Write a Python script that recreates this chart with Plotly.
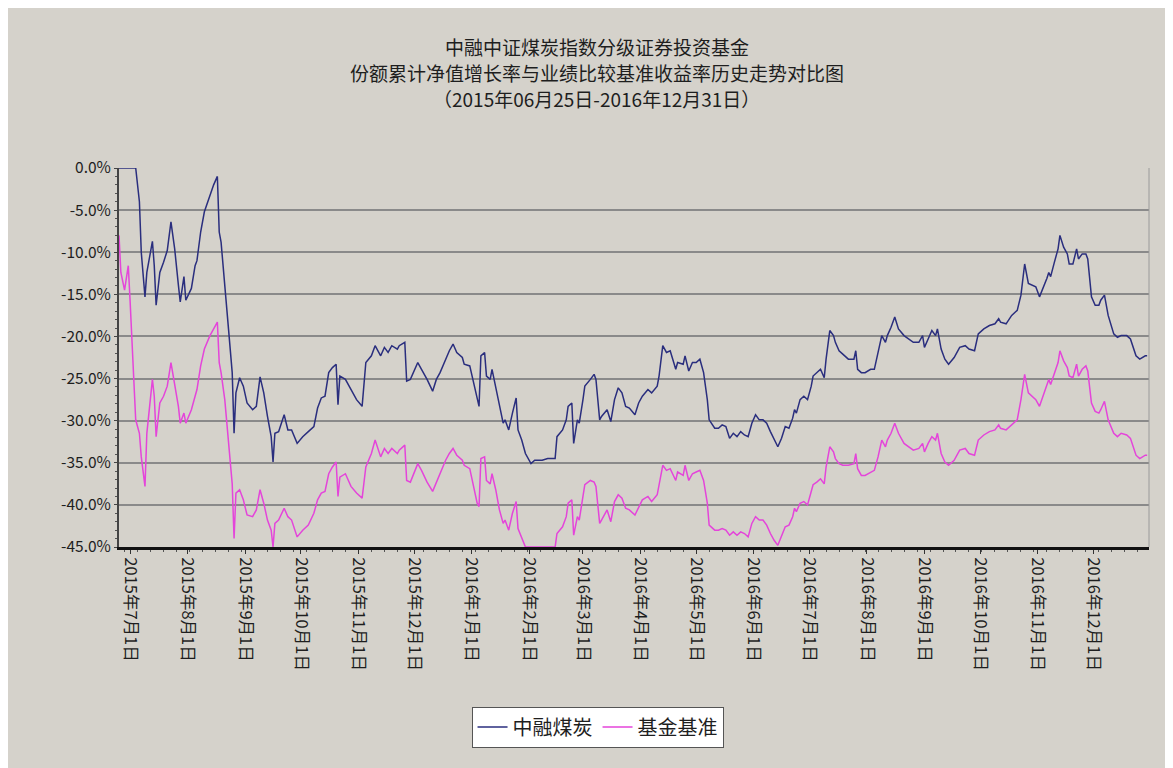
import plotly.graph_objects as go

# ---------------- data ----------------
dates = [
    "2015-06-25", "2015-06-26", "2015-06-28", "2015-06-30", "2015-07-01", "2015-07-03", "2015-07-04",
    "2015-07-06", "2015-07-07", "2015-07-09", "2015-07-10", "2015-07-13", "2015-07-14", "2015-07-15",
    "2015-07-17", "2015-07-19", "2015-07-21", "2015-07-23", "2015-07-25", "2015-07-27", "2015-07-28",
    "2015-07-30", "2015-07-31", "2015-08-03", "2015-08-05", "2015-08-06", "2015-08-08", "2015-08-10",
    "2015-08-13", "2015-08-15", "2015-08-17", "2015-08-18", "2015-08-19", "2015-08-21", "2015-08-23",
    "2015-08-25", "2015-08-26", "2015-08-27", "2015-08-29", "2015-08-31", "2015-09-02", "2015-09-05",
    "2015-09-07", "2015-09-09", "2015-09-11", "2015-09-13", "2015-09-15", "2015-09-16", "2015-09-17",
    "2015-09-19", "2015-09-22", "2015-09-24", "2015-09-26", "2015-09-29", "2015-10-02", "2015-10-05",
    "2015-10-08", "2015-10-10", "2015-10-12", "2015-10-14", "2015-10-16", "2015-10-18", "2015-10-20",
    "2015-10-21", "2015-10-22", "2015-10-25", "2015-10-28", "2015-10-31", "2015-11-03", "2015-11-04",
    "2015-11-05", "2015-11-08", "2015-11-10",
    "2015-11-13", "2015-11-15", "2015-11-17", "2015-11-19", "2015-11-22", "2015-11-23", "2015-11-26",
    "2015-11-27", "2015-11-29", "2015-12-02", "2015-12-03", "2015-12-05", "2015-12-08", "2015-12-11",
    "2015-12-13", "2015-12-15", "2015-12-18", "2015-12-20", "2015-12-22", "2015-12-24", "2015-12-27",
    "2015-12-28", "2015-12-31", "2016-01-04", "2016-01-05", "2016-01-06", "2016-01-08", "2016-01-09",
    "2016-01-11", "2016-01-12", "2016-01-14", "2016-01-16", "2016-01-18", "2016-01-19", "2016-01-21",
    "2016-01-23", "2016-01-25", "2016-01-26", "2016-01-28", "2016-01-30", "2016-02-01", "2016-02-02",
    "2016-02-04", "2016-02-08", "2016-02-11", "2016-02-15", "2016-02-16", "2016-02-19", "2016-02-21",
    "2016-02-22", "2016-02-24", "2016-02-25", "2016-02-27", "2016-02-28", "2016-03-01", "2016-03-02",
    "2016-03-05", "2016-03-07", "2016-03-08", "2016-03-10", "2016-03-11", "2016-03-14", "2016-03-16",
    "2016-03-18", "2016-03-20", "2016-03-22", "2016-03-24", "2016-03-26", "2016-03-29",
    "2016-03-31", "2016-04-02", "2016-04-05", "2016-04-07", "2016-04-10", "2016-04-11", "2016-04-13",
    "2016-04-15", "2016-04-17", "2016-04-20", "2016-04-21", "2016-04-24", "2016-04-25", "2016-04-27",
    "2016-04-29", "2016-05-01", "2016-05-03", "2016-05-05", "2016-05-07", "2016-05-08", "2016-05-11",
    "2016-05-13", "2016-05-15", "2016-05-17", "2016-05-19", "2016-05-21", "2016-05-23", "2016-05-25",
    "2016-05-27", "2016-05-29", "2016-05-31", "2016-06-02", "2016-06-04", "2016-06-06", "2016-06-08",
    "2016-06-10", "2016-06-12", "2016-06-14", "2016-06-16", "2016-06-18", "2016-06-20", "2016-06-22",
    "2016-06-23", "2016-06-24", "2016-06-26", "2016-06-28", "2016-06-30", "2016-07-02", "2016-07-03",
    "2016-07-05", "2016-07-07", "2016-07-09", "2016-07-10", "2016-07-12", "2016-07-14", "2016-07-15",
    "2016-07-17", "2016-07-19", "2016-07-22", "2016-07-25", "2016-07-26", "2016-07-27", "2016-07-29",
    "2016-07-31", "2016-08-03", "2016-08-05", "2016-08-07", "2016-08-09", "2016-08-11", "2016-08-12",
    "2016-08-14", "2016-08-16",
    "2016-08-18", "2016-08-21", "2016-08-26", "2016-08-29", "2016-08-31", "2016-09-01", "2016-09-03",
    "2016-09-05", "2016-09-07", "2016-09-08", "2016-09-10", "2016-09-12", "2016-09-14", "2016-09-17",
    "2016-09-20", "2016-09-23", "2016-09-25", "2016-09-28", "2016-09-30", "2016-10-03", "2016-10-06",
    "2016-10-09", "2016-10-11", "2016-10-12", "2016-10-15", "2016-10-18", "2016-10-20", "2016-10-21",
    "2016-10-23", "2016-10-25", "2016-10-27", "2016-10-29", "2016-10-31", "2016-11-02", "2016-11-04",
    "2016-11-06", "2016-11-07", "2016-11-08", "2016-11-10", "2016-11-12", "2016-11-13", "2016-11-15",
    "2016-11-17", "2016-11-18", "2016-11-20", "2016-11-22", "2016-11-23", "2016-11-25", "2016-11-27",
    "2016-11-28", "2016-11-30", "2016-12-02", "2016-12-04", "2016-12-05", "2016-12-07", "2016-12-09",
    "2016-12-12", "2016-12-14", "2016-12-16", "2016-12-19", "2016-12-21", "2016-12-23", "2016-12-24",
    "2016-12-26", "2016-12-29", "2016-12-30",
]

fund = [  # 中融煤炭 (%)
    0.0, 0.0, 0.0, 0.0, 0.0, 0.0, 0.0,
    -4.0, -10.0, -15.3, -12.4, -8.7, -11.6, -16.3,
    -12.4, -11.2, -9.8, -6.4, -9.6, -13.9, -15.9,
    -12.9, -15.7, -14.3, -11.6, -11.0, -7.6, -5.2,
    -3.2, -2.0, -1.0, -7.6, -8.8, -13.5, -19.1,
    -24.3, -31.5, -26.7, -24.9, -25.9, -27.9, -28.7,
    -28.3, -24.8, -26.7, -29.5, -31.9, -34.9, -31.5,
    -31.3, -29.3, -31.1, -31.1, -32.7, -31.9, -31.3,
    -30.7, -28.5, -27.3, -27.1, -24.3, -23.7, -23.3,
    -28.1, -24.7, -25.1, -26.3, -27.5, -28.3, -25.5,
    -23.1, -22.3, -21.1,
    -22.3, -21.3, -21.9, -21.1, -21.5, -21.1, -20.7,
    -25.3, -25.1, -23.5, -23.1, -23.9, -25.1, -26.5,
    -25.1, -24.3, -22.7, -21.7, -20.9, -21.9, -22.5,
    -23.3, -23.5, -27.5, -28.3, -22.3, -21.9, -24.7,
    -25.1, -23.9, -25.9, -28.3, -30.3, -29.9, -31.1,
    -29.1, -27.3, -31.1, -32.3, -33.9, -34.7, -35.1,
    -34.7, -34.7, -34.5, -34.5, -31.9, -31.1, -29.9,
    -28.3, -27.9, -32.7, -29.9, -30.3, -27.5, -25.9,
    -25.1, -24.5, -25.1, -29.9, -29.5, -28.7, -30.1,
    -27.5, -26.1, -26.7, -28.3, -28.5, -29.3,
    -27.9, -27.1, -26.3, -26.7, -25.9, -24.7, -21.1,
    -21.9, -21.7, -23.9, -23.1, -23.3, -22.3, -24.1,
    -23.1, -23.1, -22.7, -24.3, -27.5, -29.9, -30.9,
    -30.9, -30.5, -30.7, -32.1, -31.5, -31.9, -31.3,
    -31.7, -31.9, -30.3, -29.3, -29.9, -29.9, -30.3,
    -31.3, -32.3, -33.1, -32.1, -30.7, -30.9, -29.7,
    -28.7, -29.1, -27.5, -27.1, -27.5, -25.9, -24.7,
    -24.3, -23.9, -24.9, -22.7, -19.3, -19.9, -20.7,
    -21.7, -22.1, -22.7, -22.7, -21.7, -23.9, -24.3,
    -24.3, -23.9, -23.9, -21.7, -19.9, -20.7, -19.9,
    -18.9, -17.7,
    -19.1, -19.9, -20.7, -20.7, -19.9, -21.3, -20.3,
    -19.3, -19.9, -19.1, -21.5, -22.7, -23.3, -22.5,
    -21.3, -21.1, -21.5, -21.7, -19.7, -19.1, -18.7,
    -18.5, -17.9, -18.3, -18.5, -17.5, -17.1, -16.9,
    -15.1, -11.4, -13.7, -13.9, -14.1, -15.3, -14.3,
    -13.1, -12.4, -12.9, -11.2, -9.6, -8.0, -9.4,
    -10.2, -11.4, -11.4, -9.6, -10.8, -10.2, -10.2,
    -10.8, -15.3, -16.3, -16.3, -15.7, -15.1, -17.5,
    -19.7, -20.1, -19.9, -19.9, -20.3, -21.5, -22.3,
    -22.7, -22.3, -22.3,
]

bench = [  # 基金基准 (%)
    -8.0, -12.4, -14.5, -11.6, -15.9, -25.1, -29.9,
    -31.5, -34.3, -37.8, -31.5, -25.1, -27.1, -31.9,
    -27.9, -27.1, -25.9, -23.1, -25.5, -28.3, -30.3,
    -29.1, -30.3, -28.7, -27.1, -26.3, -23.5, -21.5,
    -19.9, -19.1, -18.3, -23.1, -24.3, -27.5, -32.7,
    -37.5, -44.0, -38.6, -38.2, -39.4, -41.2, -41.4,
    -40.6, -38.2, -39.8, -41.8, -43.0, -45.0, -42.2,
    -41.8, -40.4, -41.4, -41.8, -43.8, -43.0, -42.4,
    -41.0, -39.4, -38.6, -38.4, -36.3, -35.5, -34.9,
    -39.0, -36.7, -36.3, -37.8, -38.6, -39.2, -37.5,
    -35.5, -33.9, -32.3,
    -34.3, -33.3, -33.9, -33.3, -33.9, -33.5, -32.9,
    -37.1, -37.3, -35.7, -35.1, -35.9, -37.3, -38.4,
    -37.3, -36.3, -34.7, -33.9, -33.3, -34.1, -34.7,
    -35.3, -35.7, -39.8, -40.2, -34.5, -34.3, -37.1,
    -37.5, -36.3, -38.2, -40.6, -42.2, -41.8, -43.0,
    -41.0, -39.6, -42.8, -44.0, -45.0, -45.0, -45.0,
    -45.0, -45.0, -45.0, -45.0, -43.4, -42.6, -41.4,
    -39.8, -39.4, -43.6, -41.4, -41.8, -39.0, -37.6,
    -37.1, -37.3, -37.8, -42.2, -41.8, -40.6, -42.0,
    -39.6, -38.8, -39.2, -40.4, -40.6, -41.2,
    -40.2, -39.4, -39.0, -39.6, -38.8, -37.5, -35.3,
    -35.9, -35.7, -37.1, -36.1, -36.5, -35.3, -37.1,
    -36.3, -36.1, -35.9, -37.1, -39.8, -42.4, -43.0,
    -43.0, -42.8, -43.0, -43.6, -43.2, -43.6, -43.2,
    -43.4, -43.8, -42.2, -41.4, -41.8, -41.8, -42.4,
    -43.4, -44.2, -44.8, -43.6, -42.6, -42.4, -41.4,
    -40.4, -40.8, -39.8, -39.6, -40.0, -38.4, -37.6,
    -37.3, -36.9, -37.5, -35.5, -33.1, -33.7, -34.5,
    -35.1, -35.3, -35.3, -35.1, -33.9, -35.7, -36.5,
    -36.5, -36.1, -35.9, -34.3, -32.3, -33.1, -32.3,
    -31.5, -30.3,
    -31.5, -32.7, -33.5, -33.3, -32.7, -33.7, -32.7,
    -31.9, -32.3, -31.5, -33.9, -34.9, -35.3, -34.7,
    -33.5, -33.3, -33.9, -34.1, -32.3, -31.7, -31.3,
    -31.1, -30.5, -30.9, -31.1, -30.5, -30.1, -29.9,
    -27.5, -24.5, -26.7, -27.1, -27.5, -28.3, -27.1,
    -25.9, -25.1, -25.7, -24.3, -23.1, -21.7, -22.9,
    -23.7, -24.7, -24.9, -23.3, -24.7, -23.9, -23.5,
    -24.1, -27.9, -28.9, -29.1, -28.7, -27.7, -29.9,
    -31.5, -31.9, -31.5, -31.7, -32.1, -33.3, -34.1,
    -34.5, -34.1, -34.1,
]

series_names = ["中融煤炭", "基金基准"]

title_lines = [
    "中融中证煤炭指数分级证券投资基金",
    "份额累计净值增长率与业绩比较基准收益率历史走势对比图",
    "（2015年06月25日-2016年12月31日）",
]

x_tick_vals = [
    "2015-07-01", "2015-08-01", "2015-09-01", "2015-10-01", "2015-11-01", "2015-12-01",
    "2016-01-01", "2016-02-01", "2016-03-01", "2016-04-01", "2016-05-01", "2016-06-01",
    "2016-07-01", "2016-08-01", "2016-09-01", "2016-10-01", "2016-11-01", "2016-12-01",
]
x_tick_text = [
    "2015年7月1日", "2015年8月1日", "2015年9月1日", "2015年10月1日", "2015年11月1日", "2015年12月1日",
    "2016年1月1日", "2016年2月1日", "2016年3月1日", "2016年4月1日", "2016年5月1日", "2016年6月1日",
    "2016年7月1日", "2016年8月1日", "2016年9月1日", "2016年10月1日", "2016年11月1日", "2016年12月1日",
]
y_tick_vals = [0, -5, -10, -15, -20, -25, -30, -35, -40, -45]
y_tick_text = ["0.0%", "-5.0%", "-10.0%", "-15.0%", "-20.0%", "-25.0%", "-30.0%", "-35.0%", "-40.0%", "-45.0%"]

# ---------------- figure ----------------
FONT = "Noto Sans CJK SC"
BG = "#D5D2CB"
BLUE = "#2A2E7E"
PINK = "#E445DA"
TXT = "#1E1E1E"

fig = go.Figure()
fig.add_trace(go.Scatter(x=dates, y=fund, mode="lines", name=series_names[0],
                         line=dict(color=BLUE, width=1.5)))
fig.add_trace(go.Scatter(x=dates, y=bench, mode="lines", name=series_names[1],
                         line=dict(color=PINK, width=1.5)))

# the page body adds an 8px offset, so the figure is 8px smaller than the window
fig.update_layout(
    width=1165, height=760, autosize=False,
    paper_bgcolor=BG, plot_bgcolor=BG,
    margin=dict(l=111, r=24, t=160, b=221),
    font=dict(family=FONT, color=TXT),
    showlegend=True,
    legend=dict(orientation="h", x=0.4646, xanchor="center", y=-0.421, yanchor="top",
                bgcolor="#FFFFFF", bordercolor="#555555", borderwidth=1,
                font=dict(size=20, family=FONT, color=TXT), itemwidth=30,
                tracegroupgap=0),
)

# three title lines as separate texts
title_y = [1.321, 1.252, 1.183]
for line, yy in zip(title_lines, title_y):
    fig.add_annotation(text=line, xref="paper", yref="paper", x=0.464, y=yy,
                       xanchor="center", yanchor="middle", showarrow=False,
                       font=dict(size=19, family=FONT, color=TXT))

fig.update_xaxes(
    type="date", range=["2015-06-25", "2016-12-31"],
    tickmode="array", tickvals=x_tick_vals, ticktext=x_tick_text, tickangle=90,
    tickfont=dict(size=16.5, family=FONT, color=TXT),
    showgrid=False, zeroline=False,
    showline=True, linecolor="#111111", linewidth=3,
    ticks="outside", ticklen=4, tickcolor="#333333",
    minor=dict(ticks="outside", ticklen=2, tickcolor="#555555", dtick=7 * 86400000, showgrid=False),
)
fig.update_yaxes(
    range=[-45, 0], tickmode="array", tickvals=y_tick_vals, ticktext=y_tick_text,
    tickfont=dict(size=15.5, family=FONT, color=TXT),
    showgrid=True, gridcolor="#8A8A8A", gridwidth=2, zeroline=False,
    showline=True, linecolor="#444444", linewidth=2,
    ticks="outside", ticklen=3, tickcolor="#444444",
    minor=dict(ticks="outside", ticklen=2, tickcolor="#555555", dtick=1, showgrid=False),
)

# light right-hand frame of the plot area
fig.add_shape(type="line", xref="paper", yref="paper", x0=1, x1=1, y0=0, y1=1,
              line=dict(color="#9A9A9A", width=1))

fig.write_html("out.html")
